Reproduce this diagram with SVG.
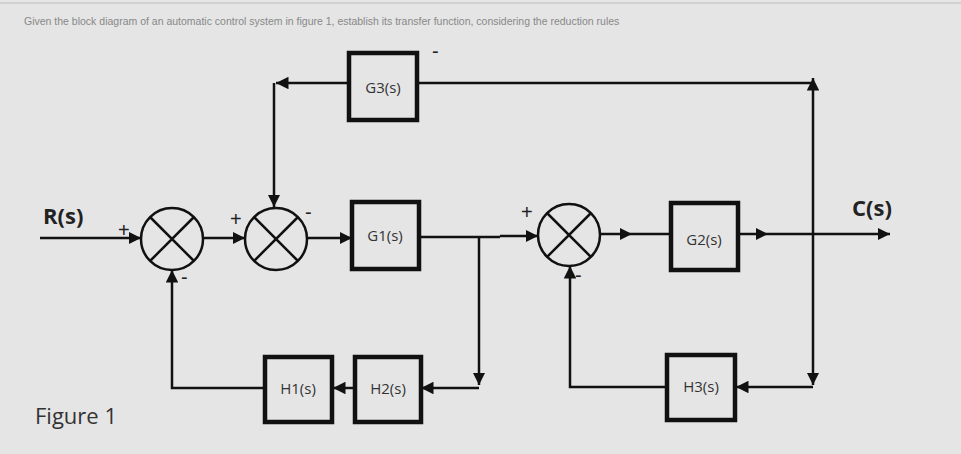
<svg xmlns="http://www.w3.org/2000/svg" width="961" height="454" viewBox="0 0 961 454">
<defs>
<marker id="ah" viewBox="0 0 10 10" refX="10" refY="5" markerWidth="5" markerHeight="5" orient="auto-start-reverse"><path d="M0,0L10,5L0,10z" fill="#111"/></marker>
<style>
.b{fill:#e5e5e5;stroke:#111;stroke-width:4.5}
.c{fill:none;stroke:#111;stroke-width:2.5}
.l{fill:none;stroke:#111;stroke-width:2.5;marker-end:url(#ah)}
.p{fill:none;stroke:#111;stroke-width:2.5}
.t{font-family:"Open Sans","Liberation Sans",sans-serif;font-size:15px;fill:#333;text-anchor:middle}
.lab{font-family:"Open Sans","Liberation Sans",sans-serif;font-size:22px;font-weight:bold;fill:#222}
.s{font-family:"Liberation Sans",sans-serif;font-size:20px;fill:#222}
</style>
</defs>
<rect width="961" height="454" fill="#e5e5e5"/>
<line x1="0" y1="3" x2="961" y2="3" stroke="#bbb" stroke-width="1"/>
<text x="24" y="25" font-family="Liberation Sans,sans-serif" font-size="10.5" fill="#888">Given the block diagram of an automatic control system in figure 1, establish its transfer function, considering the reduction rules</text>
<text x="35" y="424" font-family="Open Sans,Liberation Sans,sans-serif" font-size="22" fill="#333">Figure 1</text>
<g id="connectors">
<path class="l" d="M349,83H276"/>
<path class="l" d="M274,83V207"/>
<path class="p" d="M813,83H418"/>
<path class="l" d="M40,238H141"/>
<path class="l" d="M202,238H245"/>
<path class="l" d="M307,238H352"/>
<path class="p" d="M419,237H500"/>
<path class="l" d="M479,237V385"/>
<path class="l" d="M479,388H421"/>
<path class="l" d="M355,388H333"/>
<path class="l" d="M265,388H172V270"/>
<path class="l" d="M600,234H632"/>
<path class="p" d="M632,234H671"/>
<path class="l" d="M738,234H768"/>
<path class="l" d="M768,234H890"/>
<path class="l" d="M813,230V78"/>
<path class="l" d="M813,230V385"/>
<path class="l" d="M813,387H736"/>
<path class="l" d="M667,387H570V266"/>
<path class="l" d="M500,236H538"/>
</g>
<g id="sum1"><circle class="c" cx="172" cy="239" r="31"/><path class="c" d="M150,217L194,261M194,217L150,261"/><text class="s" x="118" y="237">+</text><text class="s" x="181" y="284">-</text></g>
<g id="sum2"><circle class="c" cx="276" cy="239" r="31"/><path class="c" d="M254,217L298,261M298,217L254,261"/><text class="s" x="230" y="226">+</text><text class="s" x="305" y="219">-</text></g>
<g id="sum3"><circle class="c" cx="569" cy="235" r="31"/><path class="c" d="M547,213L591,257M591,213L547,257"/><text class="s" x="521" y="219">+</text><text class="s" x="575" y="282">-</text></g>
<g id="G3"><rect class="b" x="349" y="53" width="68" height="67"/><text class="t" x="383" y="93">G3(s)</text><text class="s" x="432" y="58">-</text></g>
<g id="G1"><rect class="b" x="352" y="202" width="67" height="67"/><text class="t" x="385" y="241">G1(s)</text></g>
<g id="G2"><rect class="b" x="671" y="203" width="67" height="67"/><text class="t" x="704" y="245">G2(s)</text></g>
<g id="H1"><rect class="b" x="265" y="357" width="67" height="65"/><text class="t" x="298" y="394">H1(s)</text></g>
<g id="H2"><rect class="b" x="355" y="357" width="66" height="65"/><text class="t" x="388" y="394">H2(s)</text></g>
<g id="H3"><rect class="b" x="667" y="355" width="68" height="65"/><text class="t" x="701" y="392">H3(s)</text></g>
<text class="lab" x="43" y="224">R(s)</text>
<text class="lab" x="852" y="216">C(s)</text>
</svg>
